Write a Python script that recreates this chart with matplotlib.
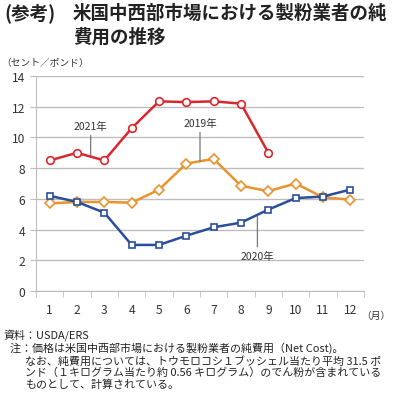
import matplotlib
matplotlib.use("Agg")
import matplotlib.pyplot as plt

plt.rcParams['font.family'] = ['Noto Sans CJK JP', 'DejaVu Sans']

months = [1, 2, 3, 4, 5, 6, 7, 8, 9, 10, 11, 12]
month_labels = [str(m) for m in months]
y2019 = [5.7, 5.8, 5.8, 5.75, 6.6, 8.3, 8.6, 6.85, 6.5, 7.0, 6.1, 5.95]
y2020 = [6.2, 5.8, 5.1, 3.0, 3.0, 3.6, 4.15, 4.45, 5.3, 6.05, 6.15, 6.6]
months2021 = [1, 2, 3, 4, 5, 6, 7, 8, 9]
y2021 = [8.5, 9.0, 8.5, 10.6, 12.35, 12.3, 12.35, 12.2, 9.0]

red = '#d9272e'
orange = '#e8932b'
blue = '#2b4e9c'
grid = '#bdbdbd'

fig = plt.figure(figsize=(3.93, 4.02), dpi=100)
ax = fig.add_axes([36/393, 110/402, 328/393, 215/402])

ax.plot(months, y2019, color=orange, lw=1.8, marker='D', ms=5, mfc='white', mec=orange, mew=1.2, zorder=3)
ax.plot(months, y2020, color=blue, lw=1.8, marker='s', ms=5, mfc='white', mec=blue, mew=1.2, zorder=3)
ax.plot(months2021, y2021, color=red, lw=1.8, marker='o', ms=5.5, mfc='white', mec=red, mew=1.2, zorder=4)

ax.set_xlim(0.5, 12.5)
ax.set_ylim(0, 14)
ax.set_yticks(range(0, 15, 2))
ax.set_xticks(months)
ax.set_xticklabels(month_labels)
ax.set_xticks([m + 0.5 for m in range(0, 13)], minor=True)
ax.tick_params(axis='x', which='major', length=0, labelsize=8.7, pad=9, colors='#333333')
ax.tick_params(axis='x', which='minor', length=4, color=grid, direction='out')
ax.tick_params(axis='y', length=4, color=grid, labelsize=8.7, colors='#333333', pad=4)
ax.grid(axis='y', color=grid, lw=1)
ax.set_axisbelow(True)
for s in ['top', 'right']:
    ax.spines[s].set_visible(False)
ax.spines['left'].set_color(grid)
ax.spines['bottom'].set_color(grid)

# annotations
ax.annotate('2021年', xy=(2.5, 8.75), xytext=(2.5, 10.4), ha='center', va='bottom', fontsize=7.5,
            color='#333333', arrowprops=dict(arrowstyle='-', color='#777777', lw=0.9, shrinkA=1, shrinkB=0))
ax.annotate('2019年', xy=(6.5, 8.45), xytext=(6.5, 10.6), ha='center', va='bottom', fontsize=7.5,
            color='#333333', arrowprops=dict(arrowstyle='-', color='#777777', lw=0.9, shrinkA=1, shrinkB=0))
ax.annotate('2020年', xy=(8.6, 4.85), xytext=(8.6, 2.6), ha='center', va='top', fontsize=7.5,
            color='#333333', arrowprops=dict(arrowstyle='-', color='#777777', lw=0.9, shrinkA=1, shrinkB=0))

fig.text(4/393, 1 - 13/402, '(参考)', fontsize=13.3, fontweight='bold', va='center', color='#222222')
fig.text(73/393, 1 - 13/402, '米国中西部市場における製粉業者の純', fontsize=13.3, fontweight='bold', va='center', color='#222222')
fig.text(73/393, 1 - 37/402, '費用の推移', fontsize=13.3, fontweight='bold', va='center', color='#222222')
fig.text(1/393, 1 - 63/402, '（セント／ポンド）', fontsize=7, va='center', color='#333333')
fig.text(391/393, 1 - 316/402, '（月）', fontsize=7, va='center', ha='right', color='#333333')

notes_y = [336, 348, 361, 373, 385]
fs = 7.9
fig.text(3/393, 1 - notes_y[0]/402, '資料：USDA/ERS', fontsize=fs, va='center', color='#222222')
fig.text(10/393, 1 - notes_y[1]/402, '注：価格は米国中西部市場における製粉業者の純費用（Net Cost)。', fontsize=fs, va='center', color='#222222')
fig.text(25/393, 1 - notes_y[2]/402, 'なお、純費用については、トウモロコシ１ブッシェル当たり平均 31.5 ポ', fontsize=fs, va='center', color='#222222')
fig.text(25/393, 1 - notes_y[3]/402, 'ンド（１キログラム当たり約 0.56 キログラム）のでん粉が含まれている', fontsize=fs, va='center', color='#222222')
fig.text(25/393, 1 - notes_y[4]/402, 'ものとして、計算されている。', fontsize=fs, va='center', color='#222222')

fig.savefig('out.png', dpi=100)
